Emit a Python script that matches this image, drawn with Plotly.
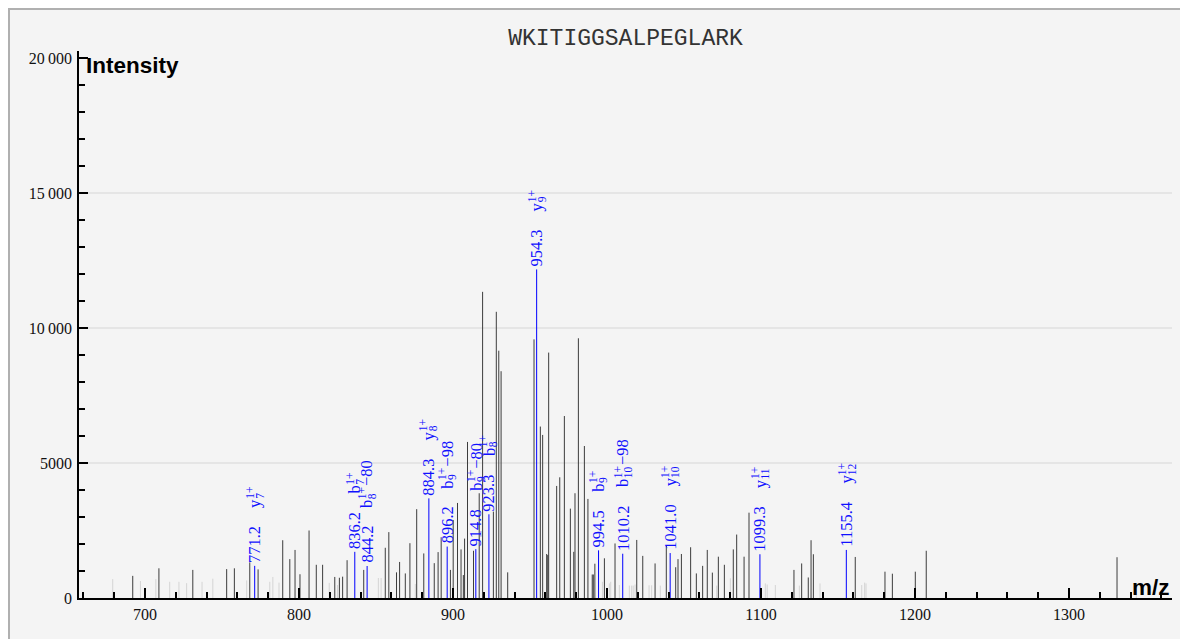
import plotly.graph_objects as go

TITLE = "WKITIGGSALPEGLARK"
X_LABEL = "m/z"
Y_LABEL = "Intensity"

# unmatched peaks (m/z, intensity)
PEAK_MZ = [692, 709, 731, 753, 758, 768, 773.4, 789.4, 794, 797.4, 800.6, 806.5, 811.2, 815.3,
           823.2, 826.2, 828.3, 831.2, 842, 856, 858.3, 863.3, 865.3, 869, 872, 876.4, 881,
           887.8, 890.3, 892.3, 898.3, 900.1, 902.9, 905.2, 906.7, 907.5, 909.4, 913.3, 917,
           919.2, 926.2, 928.1, 929.7, 931.2, 935.5, 952.6, 956.7, 958.2, 960.8, 961.5, 962.1,
           967.3, 969.3, 972.3, 976.2, 978.4, 979.2, 981.4, 985.3, 987.6, 990.4, 991.1, 992.1,
           998.3, 1005.2, 1019.3, 1023.2, 1031.2, 1038.5, 1044.6, 1046.1, 1048.3, 1054.3, 1058,
           1062.1, 1065.1, 1068.4, 1072.3, 1076.2, 1082, 1084.2, 1089, 1092.2, 1121.4, 1126.4,
           1130.7, 1132.5, 1134, 1161.2, 1180.5, 1185.3, 1200.2, 1207.3, 1331.2]
PEAK_INT = [820, 1100, 1040, 1070, 1100, 1320, 1060, 2140, 1440, 1780, 880, 2500, 1230, 1230,
            780, 750, 790, 1400, 1040, 1860, 2440, 950, 1335, 910, 2030, 3290, 1650,
            1290, 1700, 2250, 1040, 2890, 3520, 1800, 850, 2200, 5780, 1750, 3880,
            11340, 3200, 10600, 9160, 8400, 950, 9580, 6350, 6040, 1630, 1590, 9090,
            4150, 4470, 6740, 3310, 1710, 3880, 9620, 5630, 3670, 870, 870, 1270,
            1470, 2020, 2150, 1560, 1280, 1950, 1140, 1440, 1630, 1880, 910,
            1190, 1780, 940, 1530, 1230, 1800, 2350, 1530, 3160, 1040, 1280,
            760, 2140, 1620, 1520, 975, 900, 975, 1750, 1510]

# faint (low-weight) peaks
FAINT_MZ = [679, 697, 707, 716, 722, 727, 737, 744, 766, 781, 783, 787, 819.6, 825, 851.5, 853.3,
            875.5, 997, 1001.5, 1002.4, 1008, 1014.5, 1016, 1017, 1018.2, 1027.3, 1029, 1034.6,
            1071.2, 1080.1, 1102.8, 1104, 1109.3, 1124.9, 1138.3, 1165.4, 1167.3, 1168.2, 1343.7]
FAINT_INT = [700, 630, 700, 600, 600, 550, 600, 715, 650, 600, 780, 570, 560, 480, 740, 740,
             520, 600, 540, 600, 480, 460, 460, 460, 500, 470, 470, 460,
             460, 730, 540, 500, 480, 460, 540, 480, 570, 540, 550]

# matched fragment ions
MATCH_MZ = [771.2, 836.2, 844.2, 884.3, 896.2, 914.8, 923.3, 954.3, 994.5, 1010.2, 1041.0, 1099.3, 1155.4]
MATCH_INT = [1190, 1710, 1185, 3690, 1905, 1810, 3100, 12170, 1765, 1640, 1665, 1620, 1780]
MATCH_ION = ["y", "b", "b", "y", "b", "b", "b", "y", "b", "b", "y", "y", "y"]
MATCH_POS = [7, 7, 8, 8, 9, 9, 8, 9, 9, 10, 10, 11, 12]
MATCH_LOSS = ["", "", "\u221280", "", "\u221298", "\u221280", "", "", "", "\u221298", "", "", ""]
MATCH_CHARGE = "1+"

X_RANGE = [657.1, 1366.9]
Y_RANGE = [0, 20260]
Y_TICKS = [0, 5000, 10000, 15000, 20000]
Y_TICK_TEXT = ["0", "5000", "10\u2009000", "15\u2009000", "20\u2009000"]


def stems(mz, inten):
    xs, ys = [], []
    for m, v in zip(mz, inten):
        xs += [m, m, None]
        ys += [0, v, None]
    return xs, ys


OFF = 8  # page margin of the browser body
W, H = 1180, 631
PLOT_L, PLOT_R, PLOT_T, PLOT_B = 79, 1172, 51, 598  # target window pixels
ML, MT = PLOT_L - OFF, PLOT_T - OFF
PW, PH = PLOT_R - PLOT_L, PLOT_B - PLOT_T
MR, MB = W - ML - PW, H - MT - PH


def px_to_paper_x(px):
    return (px - PLOT_L) / PW


def px_to_paper_y(py):
    return (PLOT_B - py) / PH


# approximate Times advance widths (em)
ADV = {"+": 0.564, "\u2212": 0.564, ".": 0.25}


def text_w(s, size):
    return size * sum(ADV.get(c, 0.5) for c in s)


fig = go.Figure()
fx, fy = stems(FAINT_MZ, FAINT_INT)
fig.add_trace(go.Scatter(x=fx, y=fy, mode="lines", line=dict(color="#d4d4d4", width=1),
                         hoverinfo="skip", showlegend=False))
px_, py_ = stems(PEAK_MZ, PEAK_INT)
fig.add_trace(go.Scatter(x=px_, y=py_, mode="lines", line=dict(color="#3c3c3c", width=1),
                         hoverinfo="skip", showlegend=False))
mx, my = stems(MATCH_MZ, MATCH_INT)
fig.add_trace(go.Scatter(x=mx, y=my, mode="lines", line=dict(color="#0000ff", width=1),
                         hoverinfo="skip", showlegend=False))

FS = 16.5
FS_SMALL = 11.5
BLUE = "#1010ff"
LABEL_FONT = dict(family="Liberation Serif", size=FS, color=BLUE)
SMALL_FONT = dict(family="Liberation Serif", size=FS_SMALL, color=BLUE)
annotations = []


def lab(m, v, text, shift, font, xshift=0):
    annotations.append(dict(x=m, y=v, xref="x", yref="y", text=text, textangle=-90,
                            showarrow=False, xanchor="center", yanchor="bottom",
                            yshift=shift, xshift=xshift,
                            font=font, borderpad=0, borderwidth=0))


for m, v, ion, pos, loss in zip(MATCH_MZ, MATCH_INT, MATCH_ION, MATCH_POS, MATCH_LOSS):
    num = f"{m:.1f}"
    lab(m, v, num, 3, LABEL_FONT)
    s0 = 3 + text_w(num, FS) + 18
    lab(m, v, ion, s0, LABEL_FONT)
    s1 = s0 + text_w(ion, FS) + 0.5
    lab(m, v, str(pos), s1, SMALL_FONT, xshift=5)
    lab(m, v, MATCH_CHARGE, s1, SMALL_FONT, xshift=-5)
    if loss:
        s2 = s1 + max(text_w(str(pos), FS_SMALL), text_w(MATCH_CHARGE, FS_SMALL)) + 1
        lab(m, v, loss, s2, LABEL_FONT)

annotations.append(dict(x=0, y=px_to_paper_y(66), xref="paper", yref="paper", text=f"<b>{Y_LABEL}</b>",
                        showarrow=False, xanchor="left", yanchor="middle", xshift=5,
                        font=dict(family="Liberation Sans", size=22.5, color="#000")))
annotations.append(dict(x=1, y=px_to_paper_y(587), xref="paper", yref="paper", text=f"<b>{X_LABEL}</b>",
                        showarrow=False, xanchor="right", yanchor="middle",
                        font=dict(family="Liberation Sans", size=22.5, color="#000")))

BORDER = dict(color="#b0b0b0", width=2)
shapes = [
    dict(type="line", xref="paper", yref="paper", x0=px_to_paper_x(OFF + 1), x1=px_to_paper_x(OFF + 1),
         y0=px_to_paper_y(OFF + H), y1=px_to_paper_y(OFF), line=BORDER, layer="below"),
    dict(type="line", xref="paper", yref="paper", x0=px_to_paper_x(OFF), x1=px_to_paper_x(1187),
         y0=px_to_paper_y(OFF + 1), y1=px_to_paper_y(OFF + 1), line=BORDER, layer="below"),
    dict(type="line", xref="paper", yref="paper", x0=px_to_paper_x(1186), x1=px_to_paper_x(1186),
         y0=px_to_paper_y(OFF + H), y1=px_to_paper_y(OFF), line=BORDER, layer="below"),
]
for v in Y_TICKS[1:-1]:
    shapes.append(dict(type="line", xref="paper", yref="y", x0=0, x1=1, y0=v, y1=v,
                       line=dict(color="#e0e0e0", width=1.5), layer="below"))

TICK_FONT = dict(family="Liberation Serif", size=16, color="#111")
fig.update_layout(
    width=W, height=H,
    margin=dict(l=ML, r=MR, t=MT, b=MB, pad=0, autoexpand=False),
    paper_bgcolor="#f4f4f4", plot_bgcolor="rgba(0,0,0,0)",
    title=dict(text=TITLE, x=0.5, xref="paper", y=1 - (37 - OFF) / H, yref="container",
               xanchor="center", yanchor="middle",
               font=dict(family="Liberation Mono", size=23, color="#333")),
    xaxis=dict(range=X_RANGE, showgrid=False, zeroline=False, showline=True, linecolor="#000",
               linewidth=1.5, ticks="inside", ticklen=10, tickwidth=1.5, tickcolor="#000",
               dtick=100, tick0=0, tickfont=TICK_FONT, ticklabelstandoff=1,
               minor=dict(dtick=20, ticks="inside", ticklen=6, tickwidth=1.5, tickcolor="#000")),
    yaxis=dict(range=Y_RANGE, showgrid=False, zeroline=False, showline=True, linecolor="#000",
               linewidth=1.5, ticks="inside", ticklen=9, tickwidth=1.5, tickcolor="#000",
               tickvals=Y_TICKS, ticktext=Y_TICK_TEXT, tickfont=TICK_FONT, ticklabelstandoff=2,
               minor=dict(dtick=1000, ticks="inside", ticklen=6, tickwidth=1.5, tickcolor="#000")),
    annotations=annotations,
    shapes=shapes,
)

fig.write_html("out.html")
